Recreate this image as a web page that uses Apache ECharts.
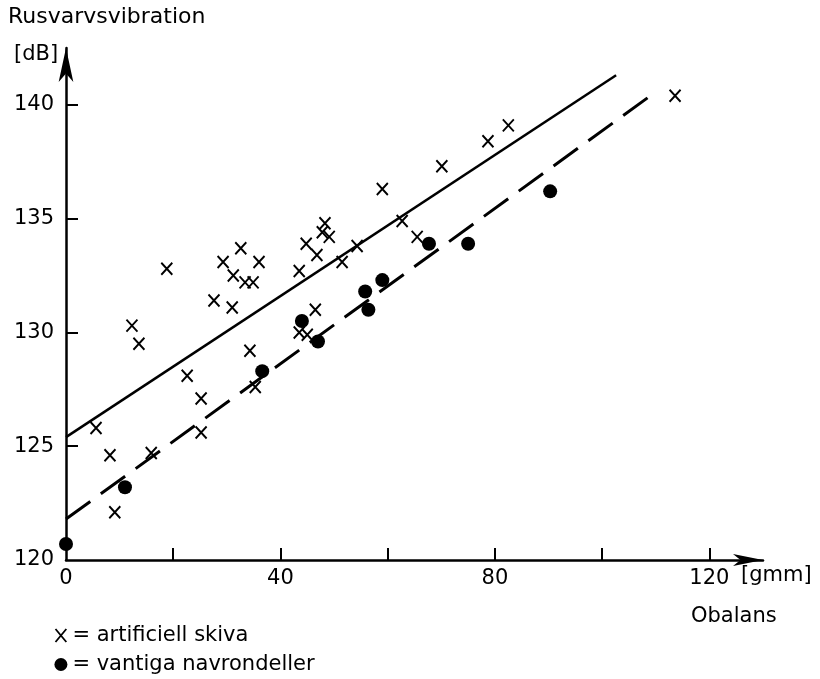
<!DOCTYPE html>
<html>
<head>
<meta charset="utf-8">
<script src="https://cdn.jsdelivr.net/npm/echarts@6/dist/echarts.min.js"></script>
<style>
  html, body { margin: 0; padding: 0; background: #fff; }
  #chart { width: 820px; height: 679px; }
</style>
</head>
<body>
<div id="chart"></div>
<script>
// artificiell skiva (x markers) [obalans gmm, dB]
const crossPoints = [
    [5.6, 125.8], [8.2, 124.6], [9.1, 122.1], [15.9, 124.7], [12.3, 130.3], [13.6, 129.5],
    [18.8, 132.8], [22.6, 128.1], [25.2, 127.1], [25.2, 125.6], [27.6, 131.4], [29.3, 133.1],
    [31.0, 131.1], [31.2, 132.5], [32.6, 133.7], [33.4, 132.2], [34.9, 132.2], [36.0, 133.1],
    [34.3, 129.2], [35.3, 127.6], [43.5, 132.7], [44.8, 133.9], [46.8, 133.4], [47.8, 134.4],
    [48.3, 134.8], [49.1, 134.2], [51.5, 133.1], [54.3, 133.8], [59.0, 136.3], [62.7, 134.9],
    [65.5, 134.2], [70.1, 137.3], [46.5, 131.0], [43.5, 130.0], [45.0, 129.9], [78.7, 138.4],
    [82.5, 139.1], [113.6, 140.4]
];
// vantiga navrondeller (filled dots)
const dotPoints = [
    [0, 120.7], [11.0, 123.2], [36.6, 128.3], [44.0, 130.5], [47.0, 129.6], [55.8, 131.8],
    [56.4, 131.0], [59.0, 132.3], [67.7, 133.9], [75.0, 133.9], [90.3, 136.2]
];
// fitted lines, end points
const solidLine = [[0, 125.4], [102.6, 141.3]];
const dashedLine = [[0, 121.8], [109.0, 140.4]];

const xTicks = [20, 40, 60, 80, 100, 120];
const xLabels = [0, 40, 80, 120];
const yTicks = [125, 130, 135, 140];
const yLabels = [120, 125, 130, 135, 140];

const font = 'DejaVu Sans';
const crossPath = 'path://M0,0L10,12M10,0L0,12';

const chart = echarts.init(document.getElementById('chart'));

const option = {
    backgroundColor: '#fff',
    animation: false,
    grid: {left: 66, right: 57, top: 48, bottom: 119},
    xAxis: {
        type: 'value',
        min: 0,
        max: 130,
        interval: 20,
        splitLine: {show: false},
        axisLine: {
            lineStyle: {color: '#000', width: 2.5},
            symbol: ['none', 'arrow'],
            symbolSize: [9, 30]
        },
        axisTick: {
            inside: true, length: 12, lineStyle: {color: '#000', width: 2},
            customValues: xTicks
        },
        axisLabel: {
            color: '#000', fontFamily: font, fontSize: 21, margin: 8,
            customValues: xLabels
        }
    },
    yAxis: {
        type: 'value',
        min: 120,
        max: 142.5,
        interval: 5,
        splitLine: {show: false},
        axisLine: {
            lineStyle: {color: '#000', width: 2.5},
            symbol: ['none', 'arrow'],
            symbolSize: [11, 34]
        },
        axisTick: {
            inside: true, length: 12, lineStyle: {color: '#000', width: 2},
            customValues: yTicks
        },
        axisLabel: {
            color: '#000', fontFamily: font, fontSize: 21, margin: 12,
            customValues: yLabels
        }
    },
    legend: {
        orient: 'vertical',
        left: 53,
        top: 625,
        padding: 0,
        itemGap: 8,
        itemWidth: 13,
        itemHeight: 13,
        textStyle: {color: '#000', fontFamily: font, fontSize: 21},
        formatter: '= {name}',
        data: [
            {name: 'artificiell skiva', icon: crossPath, itemStyle: {color: 'none', borderColor: '#000', borderWidth: 1.8}},
            {name: 'vantiga navrondeller', icon: 'circle', itemStyle: {color: '#000', opacity: 1}}
        ]
    },
    graphic: [
        {type: 'text', left: 8, top: 6, style: {text: 'Rusvarvsvibration', font: '22px "DejaVu Sans"', fill: '#000'}},
        {type: 'text', left: 14, top: 44, style: {text: '[dB]', font: '21px "DejaVu Sans"', fill: '#000'}},
        {type: 'text', left: 741, top: 565, style: {text: '[gmm]', font: '21px "DejaVu Sans"', fill: '#000'}},
        {type: 'text', left: 691, top: 606, style: {text: 'Obalans', font: '21px "DejaVu Sans"', fill: '#000'}}
    ],
    series: [
        {
            name: 'fit artificiell',
            type: 'line',
            data: solidLine,
            symbol: 'none',
            lineStyle: {color: '#000', width: 2.5},
            silent: true
        },
        {
            name: 'fit vantiga',
            type: 'line',
            data: dashedLine,
            symbol: 'none',
            lineStyle: {color: '#000', width: 3, type: [30, 13]},
            silent: true
        },
        {
            name: 'artificiell skiva',
            type: 'scatter',
            data: crossPoints,
            symbol: crossPath,
            symbolSize: [11, 12],
            itemStyle: {color: 'none', borderColor: '#000', borderWidth: 2, opacity: 1}
        },
        {
            name: 'vantiga navrondeller',
            type: 'scatter',
            data: dotPoints,
            symbol: 'circle',
            symbolSize: 14,
            itemStyle: {color: '#000', opacity: 1}
        }
    ]
};

chart.setOption(option);
</script>
</body>
</html>
